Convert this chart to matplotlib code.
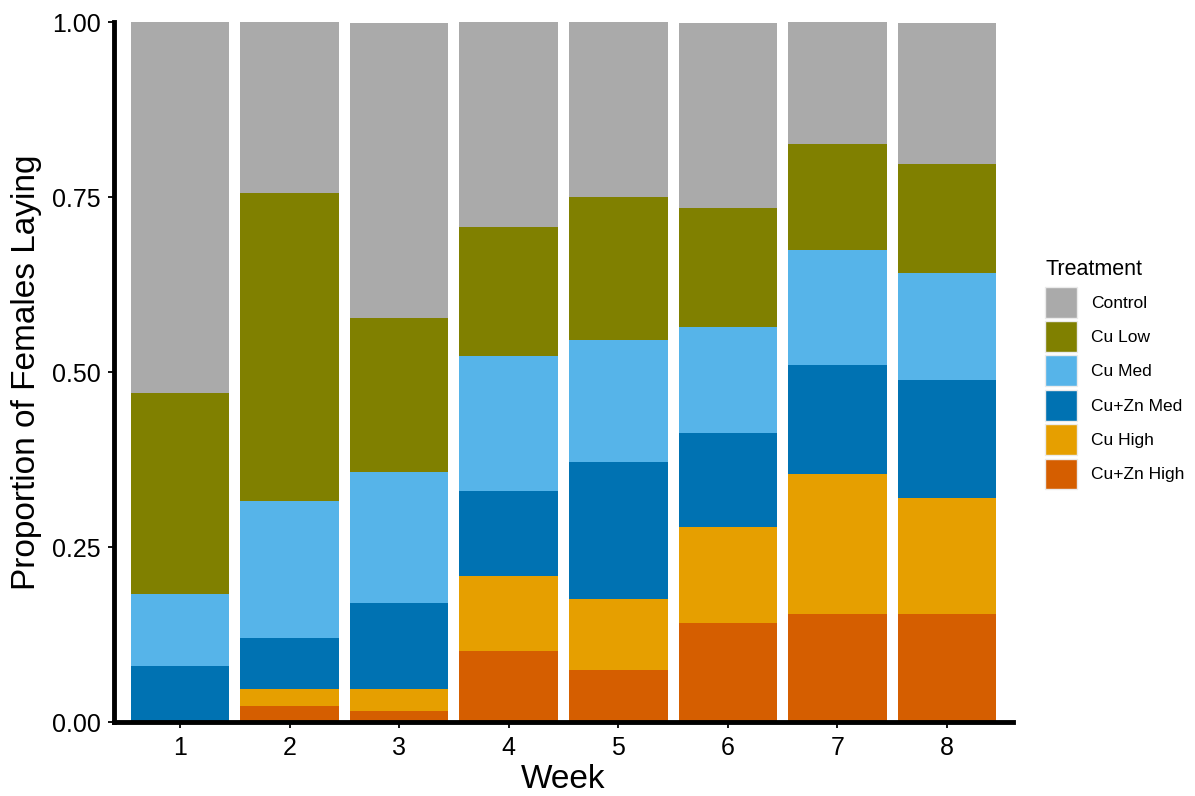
import matplotlib
matplotlib.use("Agg")
import matplotlib.pyplot as plt
from matplotlib.patches import Patch
import numpy as np

plt.rcParams['font.family'] = ['Liberation Sans', 'DejaVu Sans']

weeks = [1, 2, 3, 4, 5, 6, 7, 8]

# Proportion of laying females in each treatment, per week (stacked bottom to top)
cu_zn_high = [0.000, 0.024, 0.016, 0.102, 0.075, 0.142, 0.155, 0.155]
cu_high    = [0.000, 0.023, 0.031, 0.107, 0.101, 0.137, 0.200, 0.166]
cu_zn_med  = [0.081, 0.074, 0.124, 0.122, 0.196, 0.134, 0.156, 0.168]
cu_med     = [0.102, 0.195, 0.187, 0.192, 0.174, 0.151, 0.164, 0.153]
cu_low     = [0.287, 0.440, 0.219, 0.185, 0.204, 0.170, 0.151, 0.156]
control    = [0.530, 0.244, 0.422, 0.292, 0.250, 0.265, 0.174, 0.201]

treatments = ["Control", "Cu Low", "Cu Med", "Cu+Zn Med", "Cu High", "Cu+Zn High"]
colors = {
    "Control": "#AAAAAA",
    "Cu Low": "#808000",
    "Cu Med": "#56B4E9",
    "Cu+Zn Med": "#0072B2",
    "Cu High": "#E69F00",
    "Cu+Zn High": "#D55E00",
}
series = {
    "Control": control,
    "Cu Low": cu_low,
    "Cu Med": cu_med,
    "Cu+Zn Med": cu_zn_med,
    "Cu High": cu_high,
    "Cu+Zn High": cu_zn_high,
}

fig = plt.figure(figsize=(11.95, 7.96), dpi=100)
ax = fig.add_axes([114.2 / 1195, (796 - 722.3) / 796, 898.5 / 1195, 700 / 796])

x = np.array(weeks)
bottom = np.zeros(len(weeks))
for name in reversed(treatments):
    vals = np.array(series[name])
    ax.bar(x, vals, bottom=bottom, width=0.9, color=colors[name],
           linewidth=0, label=name)
    bottom += vals

ax.set_xlim(0.4, 8.6)
ax.set_ylim(0, 1)
ax.set_xticks(weeks)
ax.set_xticklabels([str(w) for w in weeks])
ax.set_yticks([0, 0.25, 0.5, 0.75, 1.0])
ax.set_yticklabels(["0.00", "0.25", "0.50", "0.75", "1.00"])

for side in ["top", "right"]:
    ax.spines[side].set_visible(False)
for side in ["left", "bottom"]:
    ax.spines[side].set_linewidth(3.5)
    ax.spines[side].set_color("black")
    ax.spines[side].set_capstyle("projecting")

ax.tick_params(axis="both", direction="out", length=4, width=1.3,
               colors="black", labelsize=18)
ax.tick_params(axis="x", pad=6.0)
ax.tick_params(axis="y", pad=5.5)

ax.set_xlabel("Week", fontsize=24, labelpad=3)
ax.set_ylabel("Proportion of Females Laying", fontsize=24, labelpad=7)

handles = [Patch(facecolor=colors[t], edgecolor="#EBEBEB", linewidth=1.0, label=t)
           for t in treatments]
leg = fig.legend(handles=handles, title="Treatment", loc="upper left",
                 bbox_to_anchor=(1040 / 1195, 1 - 254 / 796), frameon=False,
                 fontsize=12.5, title_fontsize=15.5, handlelength=1.84,
                 handleheight=2.36, labelspacing=0.2, handletextpad=0.8,
                 borderaxespad=0, borderpad=0.3)
leg._legend_box.align = "left"
leg._legend_box.sep = 4.7

fig.savefig("out.png", dpi=100, facecolor="white")
